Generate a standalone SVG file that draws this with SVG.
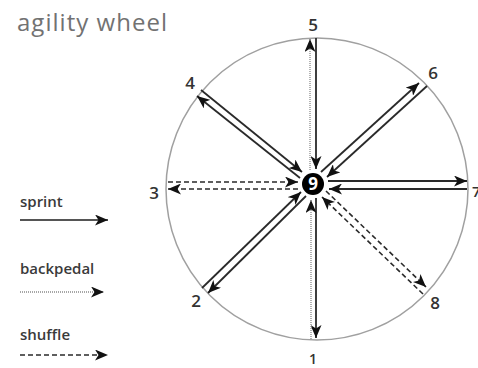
<svg xmlns="http://www.w3.org/2000/svg" width="478" height="368" viewBox="0 0 478 368">
<defs>
<marker id="ah" markerUnits="userSpaceOnUse" markerWidth="15" markerHeight="11" refX="13" refY="5.5" orient="auto" viewBox="0 0 15 11">
<path d="M0,0 L13,5.5 L0,11 L3.5,5.5 z" fill="#111"/>
</marker>
<style>
.t{font-family:"Open Sans","DejaVu Sans",sans-serif;fill:#3a3a3a;font-weight:600}
.num{font-family:"Open Sans","DejaVu Sans",sans-serif;font-size:17px;font-weight:600;fill:#333;text-anchor:middle}
.s{stroke:#2a2a2a;stroke-width:1.8;fill:none;marker-end:url(#ah)}
.b{stroke:#8a8a8a;stroke-width:1.3;stroke-dasharray:1 1;fill:none;marker-end:url(#ah)}
.d{stroke:#2a2a2a;stroke-width:1.6;stroke-dasharray:5 3;fill:none;marker-end:url(#ah)}
</style>
</defs>
<rect width="478" height="368" fill="#fff"/>
<text x="17" y="31" class="t" style="font-size:24px;fill:#727272;font-weight:400" textLength="150">agility wheel</text>
<circle cx="317" cy="189" r="151" fill="none" stroke="#a0a0a0" stroke-width="1.5"/>
<g id="connectors">
<line class="s" x1="316" y1="38" x2="316" y2="169"/>
<line class="b" x1="310" y1="170" x2="310" y2="39"/>
<line class="s" x1="316" y1="198" x2="316" y2="338"/>
<line class="b" x1="311" y1="339" x2="311" y2="200"/>
<line class="s" x1="328" y1="181" x2="467" y2="181"/>
<line class="s" x1="467" y1="189" x2="329" y2="189"/>
<line class="d" x1="168" y1="182" x2="298" y2="182"/>
<line class="d" x1="298" y1="189" x2="168" y2="189"/>
<line class="s" x1="300" y1="178" x2="197" y2="96"/>
<line class="s" x1="201" y1="90" x2="302" y2="172"/>
<line class="s" x1="321" y1="172" x2="419" y2="83"/>
<line class="s" x1="427" y1="86" x2="327" y2="177"/>
<line class="s" x1="202" y1="288" x2="301" y2="192"/>
<line class="s" x1="306" y1="196" x2="208" y2="293"/>
<line class="d" x1="326" y1="191" x2="426" y2="287"/>
<line class="d" x1="423" y1="294" x2="322" y2="197"/>
</g>
<g id="hub">
<circle cx="313" cy="184" r="11" fill="#000"/>
<text x="313" y="190" class="num" style="font-size:17px;fill:#fff;font-weight:700">9</text>
</g>
<g id="n5"><text x="313" y="31" class="num">5</text></g>
<g id="n4"><text x="190" y="89" class="num">4</text></g>
<g id="n6"><text x="433" y="79" class="num">6</text></g>
<g id="n3"><text x="154" y="199" class="num">3</text></g>
<g id="n7"><text x="472" y="197" class="num" style="text-anchor:start;font-size:15px">7</text></g>
<g id="n2"><text x="196" y="307" class="num">2</text></g>
<g id="n8"><text x="435" y="309" class="num">8</text></g>
<g id="n1"><text x="313" y="364" class="num" style="font-size:14px">1</text></g>
<g id="legend">
<text x="20" y="207" class="t" style="font-size:15px">sprint</text>
<line class="s" x1="20" y1="220" x2="108" y2="220" style="stroke-width:2.2;stroke:#555"/>
<text x="20" y="274" class="t" style="font-size:15px">backpedal</text>
<line class="b" x1="20" y1="292" x2="104" y2="292"/>
<text x="20" y="340" class="t" style="font-size:15px">shuffle</text>
<line class="d" x1="20" y1="355" x2="108" y2="355"/>
</g>
</svg>
